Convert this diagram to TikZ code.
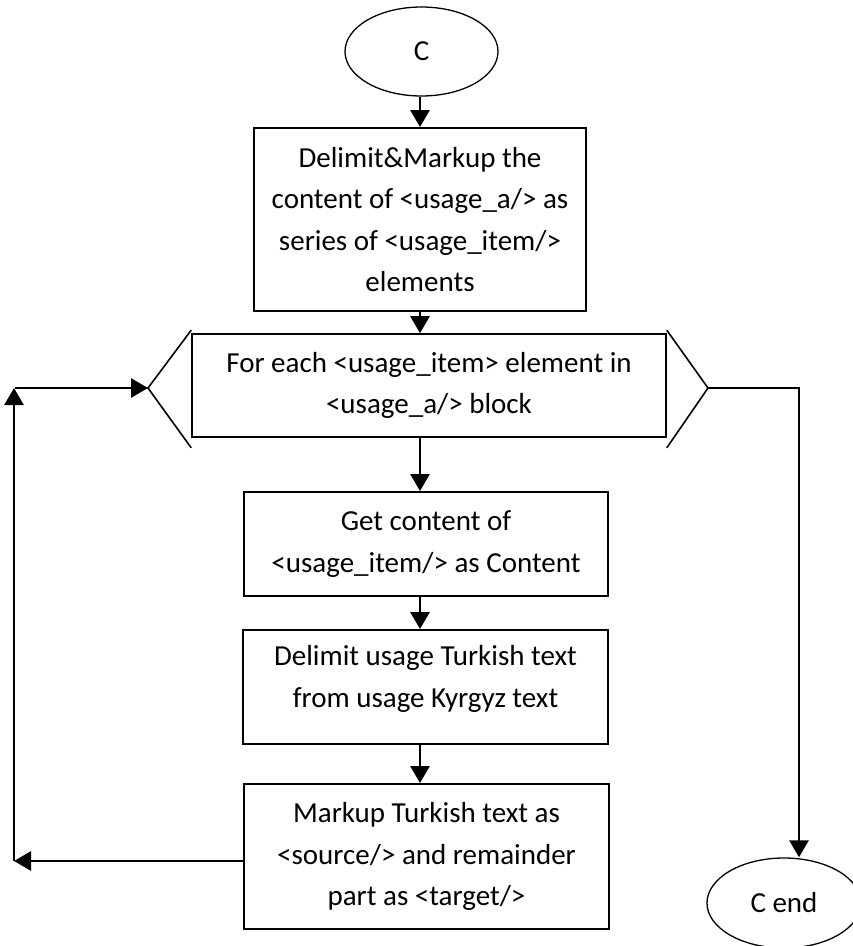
\documentclass[tikz,border=0pt]{standalone}
\usepackage{fontspec}
\setmainfont{Carlito}
\usetikzlibrary{shapes.geometric,arrows.meta,calc}

\tikzset{
  txt/.style={font=\fontsize{29}{41.5}\selectfont, align=center, text=black},
  terminal/.style={txt, ellipse, draw, line width=1.3pt, inner sep=0pt},
  stepbox/.style={txt, rectangle, draw, line width=1.9pt, inner sep=0pt},
  loopbox/.style={txt, rectangle, draw, line width=1.6pt, inner sep=0pt},
  arr/.style={line width=2.8pt, -{Triangle[length=17pt,width=19pt]}},
  thin/.style={line width=1.2pt},
}

\begin{document}
\begin{tikzpicture}[x=1pt, y=-1pt]
  \useasboundingbox (0,0) rectangle (853,946);

  % terminals
  \node[terminal, minimum width=153pt, minimum height=89pt] (start) at (421.5,51.5) {C};
  \node[terminal, minimum width=154pt, minimum height=90pt] (cend) at (784,903) {C end};

  % process boxes
  \node[stepbox, minimum width=332pt, minimum height=183pt] (b1) at (420,219.5)
    {Delimit\&Markup the\\content of <usage\_a/> as\\series of <usage\_item/>\\elements};
  \node[loopbox, minimum width=474pt, minimum height=103pt] (loop) at (429,385.5)
    {For each <usage\_item> element in\\<usage\_a/> block};
  \node[stepbox, minimum width=364pt, minimum height=104pt] (b3) at (426,544)
    {Get content of\\<usage\_item/> as Content};
  \node[stepbox, minimum width=365pt, minimum height=114pt, text depth=21pt] (b4) at (425.5,687)
    {Delimit usage Turkish text\\from usage Kyrgyz text};
  \node[stepbox, minimum width=365pt, minimum height=145pt] (b5) at (426.5,856.5)
    {Markup Turkish text as\\<source/> and remainder\\part as <target/>};

  % pointed ends of the loop block
  \coordinate (loopL) at (148,388);
  \coordinate (loopR) at (708,388);
  \draw[line width=1.6pt, line join=miter]
    ($(loop.north west)+(0,-3)$) -- (loopL) -- ($(loop.south west)+(0,10)$);
  \draw[line width=1.6pt, line join=miter]
    ($(loop.north east)+(0,-3)$) -- (loopR) -- ($(loop.south east)+(0,10)$);

  % main flow
  \coordinate (axis) at (420,0);
  \draw[arr] (start.south -| axis) -- (b1.north -| axis);
  \draw[arr] (b1.south -| axis) -- (loop.north -| axis);
  \draw[arr] (loop.south -| axis) -- (b3.north -| axis);
  \draw[arr] (b3.south -| axis) -- (b4.north -| axis);
  \draw[arr] (b4.south -| axis) -- (b5.north -| axis);

  % return path to the loop
  \coordinate (retX) at (14,0);
  \coordinate (retY) at (0,861);
  \draw[arr] (b5.west |- retY) -- (retX |- retY);
  \draw[arr] (retX |- retY) -- (retX |- loopL);
  \draw[arr] ($(retX |- loopL)+(1,0)$) -- (loopL);

  % exit path
  \coordinate (exitX) at (799,0);
  \coordinate (exitMid) at (799,725);
  \draw[thin] (loopR) -- (loopR -| exitX) -- (exitMid);
  \draw[arr] (exitMid) -- (exitMid |- cend.north);
\end{tikzpicture}
\end{document}
